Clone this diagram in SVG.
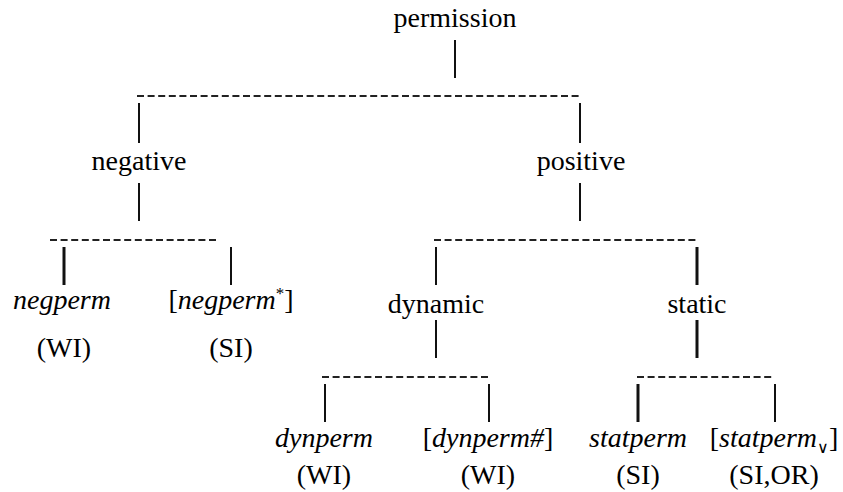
<svg xmlns="http://www.w3.org/2000/svg" width="843" height="492" viewBox="0 0 843 492">
<defs>
<style>
.v{stroke:#111;stroke-width:2;fill:none}
.vt{stroke:#111;stroke-width:3;fill:none}
.d{stroke:#222;stroke-width:2;stroke-dasharray:7 3.6;fill:none}
</style>
</defs>
<rect width="843" height="492" fill="#fff"/>
<g id="connectors">
<line class="v" x1="455" y1="40" x2="455" y2="78"/>
<line class="d" x1="137" y1="96" x2="582" y2="96"/>
<line class="v" x1="139" y1="103" x2="139" y2="143"/>
<line class="v" x1="580" y1="103" x2="580" y2="143"/>
<line class="v" x1="139" y1="183" x2="139" y2="221"/>
<line class="v" x1="580" y1="183" x2="580" y2="221"/>
<line class="d" x1="50" y1="240" x2="219" y2="240"/>
<line class="vt" x1="64" y1="247" x2="64" y2="285"/>
<line class="v" x1="231" y1="247" x2="231" y2="285"/>
<line class="d" x1="434" y1="240" x2="698" y2="240"/>
<line class="v" x1="436" y1="247" x2="436" y2="285"/>
<line class="vt" x1="697" y1="247" x2="697" y2="285"/>
<line class="v" x1="436" y1="320" x2="436" y2="358"/>
<line class="vt" x1="697" y1="320" x2="697" y2="358"/>
<line class="d" x1="322" y1="377" x2="489" y2="377"/>
<line class="v" x1="325" y1="384" x2="325" y2="422"/>
<line class="v" x1="489" y1="384" x2="489" y2="422"/>
<line class="d" x1="637" y1="377" x2="773" y2="377"/>
<line class="vt" x1="638" y1="384" x2="638" y2="422"/>
<line class="v" x1="775" y1="384" x2="775" y2="422"/>
</g>
<g id="permission"><text x="455" y="27" font-family="Liberation Serif" font-size="28" text-anchor="middle">permission</text></g>
<g id="negative"><text x="139" y="170" font-family="Liberation Serif" font-size="28" text-anchor="middle">negative</text></g>
<g id="positive"><text x="581" y="170" font-family="Liberation Serif" font-size="28" text-anchor="middle">positive</text></g>
<g id="negperm"><text x="62" y="309" font-family="Liberation Serif" font-size="28" font-style="italic" text-anchor="middle">negperm</text><text x="64" y="357" font-family="Liberation Serif" font-size="28" text-anchor="middle">(WI)</text></g>
<g id="negperm-star"><text x="231" y="309" font-family="Liberation Serif" font-size="28" text-anchor="middle">[<tspan font-style="italic">negperm</tspan><tspan font-size="17" dy="-10">*</tspan><tspan dy="10">]</tspan></text><text x="231" y="357" font-family="Liberation Serif" font-size="28" text-anchor="middle">(SI)</text></g>
<g id="dynamic"><text x="436" y="313" font-family="Liberation Serif" font-size="28" text-anchor="middle">dynamic</text></g>
<g id="static"><text x="697" y="313" font-family="Liberation Serif" font-size="28" text-anchor="middle">static</text></g>
<g id="dynperm"><text x="324" y="447" font-family="Liberation Serif" font-size="28" font-style="italic" text-anchor="middle">dynperm</text><text x="324" y="484" font-family="Liberation Serif" font-size="28" text-anchor="middle">(WI)</text></g>
<g id="dynperm-hash"><text x="488" y="447" font-family="Liberation Serif" font-size="28" text-anchor="middle">[<tspan font-style="italic">dynperm#</tspan>]</text><text x="488" y="484" font-family="Liberation Serif" font-size="28" text-anchor="middle">(WI)</text></g>
<g id="statperm"><text x="638" y="447" font-family="Liberation Serif" font-size="28" font-style="italic" text-anchor="middle">statperm</text><text x="638" y="484" font-family="Liberation Serif" font-size="28" text-anchor="middle">(SI)</text></g>
<g id="statperm-or"><text x="774" y="447" font-family="Liberation Serif" font-size="28" text-anchor="middle">[<tspan font-style="italic">statperm</tspan><tspan font-size="16" dy="6">∨</tspan><tspan dy="-6">]</tspan></text><text x="774" y="484" font-family="Liberation Serif" font-size="28" text-anchor="middle">(SI,OR)</text></g>
</svg>
